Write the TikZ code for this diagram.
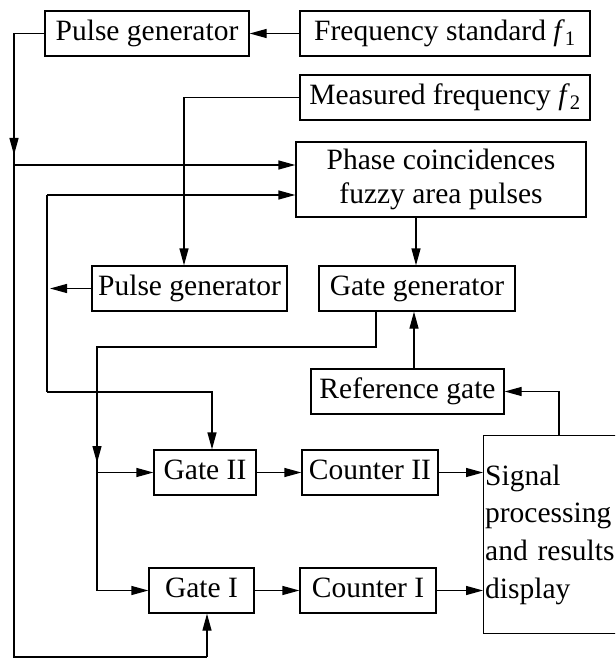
\documentclass[tikz,border=0pt]{standalone}
\usepackage{fontspec}
\setmainfont{Liberation Serif}
\usetikzlibrary{arrows.meta}
\begin{document}
\begin{tikzpicture}[x=1pt,y=-1pt,line width=1.3pt,
  box/.style={draw,inner sep=0pt,font=\fontsize{29.5}{34}\selectfont,text height=20.2pt,text depth=6.6pt},
  mbox/.style={draw,inner sep=0pt,font=\fontsize{29.5}{34}\selectfont,align=center},
  arr/.style={-{Triangle[length=17pt,width=9pt]}}]
\useasboundingbox (0,0) rectangle (615,660);
\clip (0,0) rectangle (615,660);
% boxes
\node[box,minimum width=204pt,minimum height=45pt] (pg1) at (147,33.5) {Pulse generator};
\node[box,minimum width=290pt,minimum height=45pt] (fs) at (445,33.5) {Frequency standard \textit{f}\textsubscript{1}};
\node[box,minimum width=290pt,minimum height=45pt] (mf) at (445,97.5) {Measured frequency \textit{f}\textsubscript{2}};
\node[mbox,minimum width=290pt,minimum height=75pt] (ph) at (441,179.5) {Phase coincidences\\fuzzy area pulses};
\node[box,minimum width=195pt,minimum height=45pt] (pg2) at (189.5,288.5) {Pulse generator};
\node[box,minimum width=196pt,minimum height=45pt] (gg) at (417,288.5) {Gate generator};
\node[box,minimum width=193pt,minimum height=45pt] (rg) at (407.5,391.5) {Reference gate};
\node[box,minimum width=102pt,minimum height=45pt] (g2) at (205,472.5) {Gate II};
\node[box,minimum width=136pt,minimum height=45pt] (c2) at (370,472.5) {Counter II};
\node[box,minimum width=105pt,minimum height=45pt] (g1) at (201.5,590.5) {Gate I};
\node[box,minimum width=136pt,minimum height=45pt] (c1) at (368,590.5) {Counter I};
\node[draw,anchor=north west,inner ysep=0pt,inner xsep=1.5pt,text width=160pt,minimum height=198pt,align=left,
  font=\fontsize{29.5}{37.7}\selectfont] (sig) at (483,435) {Signal\\processing\\and results\\display};
% coordinates
\coordinate (l1) at (14,33.5);
\coordinate (l1b) at (14,657);
\coordinate (l1c) at (207,657);
\coordinate (l2a) at (47,195);
\coordinate (l2b) at (47,392);
\coordinate (l2c) at (212,392);
\coordinate (m1) at (184,97.5);
\coordinate (gA) at (376,347);
\coordinate (gB) at (97,347);
\coordinate (gC) at (97,590.5);
\coordinate (s1) at (559,391.5);
% connectors
\draw[arr] (fs) -- (pg1);
\draw (pg1.west) -- (l1) -- (l1b) -- (l1c);
\draw[arr] (l1c) -- (g1.south -| l1c);
\draw[arr] (14,120) -- (14,155);
\draw[arr] (14,165) -- (ph.west |- 0,165);
\draw[arr] (mf.west) -- (m1) -- (pg2.north -| m1);
\draw[arr] (pg2.west) -- (50,288.5);
\draw (l2a) -- (l2b);
\draw[arr] (l2a) -- (ph.west |- l2a);
\draw[arr] (l2b) -- (l2c) -- (g2.north -| l2c);
\draw[arr] (ph.south -| 416,0) -- (gg.north -| 416,0);
\draw (gg.south -| gA) -- (gA) -- (gB) -- (gC);
\draw[arr] (gC) -- (g1.west);
\draw[arr] (97,430) -- (97,463);
\draw[arr] (gB |- g2.west) -- (g2.west);
\draw[arr] (rg.north -| 414,0) -- (gg.south -| 414,0);
\draw[arr] (sig.north -| s1) -- (s1) -- (rg.east);
\draw[arr] (g2) -- (c2);
\draw[arr] (c2.east) -- (c2.east -| sig.west);
\draw[arr] (g1) -- (c1);
\draw[arr] (c1.east) -- (c1.east -| sig.west);
\end{tikzpicture}
\end{document}
